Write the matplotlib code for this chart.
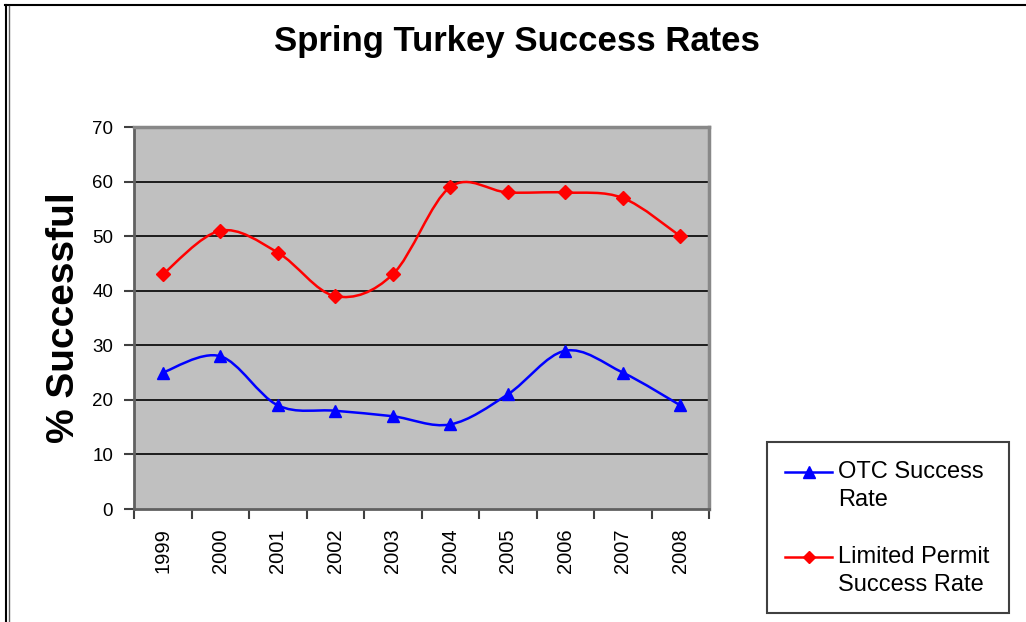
import matplotlib
matplotlib.use('Agg')
import matplotlib.pyplot as plt
import matplotlib.patches as patches
from matplotlib.path import Path
from matplotlib.lines import Line2D
import numpy as np

# ============================================================
# Data
# ============================================================
years = ['1999', '2000', '2001', '2002', '2003', '2004', '2005', '2006', '2007', '2008']
otc_rate = [25, 28, 19, 18, 17, 15.5, 21, 29, 25, 19]
limited_rate = [43, 51, 47, 39, 43, 59, 58, 58, 57, 50]
series_labels = ['OTC Success\nRate', 'Limited Permit\nSuccess Rate']
series_colors = ['#0000FF', '#FF0000']
series_markers = ['^', 'D']

plt.rcParams['font.family'] = ['Liberation Sans', 'DejaVu Sans']

W, H = 1026, 622
fig = plt.figure(figsize=(W / 100, H / 100), dpi=100)
fig.patch.set_facecolor('white')

# plot area in pixels: x 134..709, y 127..509
ax = fig.add_axes([134 / W, 1 - 509 / H, (709 - 134) / W, (509 - 127) / H])
ax.set_facecolor('#C0C0C0')

x = np.arange(len(years))
ax.set_xlim(-0.5, len(years) - 0.5)
ax.set_ylim(0, 70)


def smooth_path(xs, ys):
    # Excel-like smoothed line: cubic Bezier through every point
    pts = np.column_stack([xs, ys]).astype(float)
    n = len(pts)
    verts = [pts[0]]
    codes = [Path.MOVETO]
    for i in range(n - 1):
        p0 = pts[i - 1] if i > 0 else pts[i]
        p1 = pts[i]
        p2 = pts[i + 1]
        p3 = pts[i + 2] if i + 2 < n else pts[i + 1]
        c1 = p1 + (p2 - p0) / 6.0
        c2 = p2 - (p3 - p1) / 6.0
        verts += [c1, c2, p2]
        codes += [Path.CURVE4] * 3
    return Path(verts, codes)


# grid
for v in range(10, 70, 10):
    ax.axhline(v, color='black', linewidth=1.2, zorder=1)

# OTC (blue)
ax.add_patch(patches.PathPatch(smooth_path(x, otc_rate), facecolor='none',
                               edgecolor=series_colors[0], linewidth=1.8, zorder=3))
ax.plot(x, otc_rate, linestyle='none', marker='^', markersize=9,
        color=series_colors[0], zorder=4)

# Limited permit (red)
ax.add_patch(patches.PathPatch(smooth_path(x, limited_rate), facecolor='none',
                               edgecolor=series_colors[1], linewidth=1.8, zorder=3))
ax.plot(x, limited_rate, linestyle='none', marker='D', markersize=7,
        color=series_colors[1], zorder=4)

# axes styling
for side in ['top', 'right']:
    ax.spines[side].set_color('#888888')
    ax.spines[side].set_linewidth(2.5)
for side in ['left', 'bottom']:
    ax.spines[side].set_color('#606060')
    ax.spines[side].set_linewidth(2)

ax.set_yticks(range(0, 71, 10))
ax.tick_params(axis='y', direction='out', length=7, width=1.5, color='#404040',
               labelsize=13.5, pad=8)
ax.set_xticks(np.arange(-0.5, len(years), 1.0))
ax.set_xticklabels([])
ax.tick_params(axis='x', direction='out', length=7, width=1.5, color='#404040')
ax.set_xticks(x, minor=True)
ax.set_xticklabels(years, minor=True, rotation=90, fontsize=14.5)
ax.tick_params(axis='x', which='minor', length=0, pad=14)

ax.set_ylabel('% Successful', fontsize=28, fontweight='bold', labelpad=7)

fig.text(517 / W, 1 - 42 / H, 'Spring Turkey Success Rates', ha='center',
         va='center', fontsize=25, fontweight='bold')

# legend box
fig.add_artist(patches.Rectangle((767 / W, 1 - 613 / H), (1009 - 767) / W,
                                 (613 - 442) / H, transform=fig.transFigure,
                                 facecolor='white', edgecolor='#404040',
                                 linewidth=1.5))
legend_rows = [472, 557]
for label, color, marker, row in zip(series_labels, series_colors,
                                     series_markers, legend_rows):
    yy = 1 - row / H
    fig.add_artist(Line2D([785 / W, 832 / W], [yy, yy], transform=fig.transFigure,
                          color=color, linewidth=1.8))
    fig.add_artist(Line2D([808.5 / W], [yy], transform=fig.transFigure,
                          color=color, marker=marker,
                          markersize=8 if marker == '^' else 6, linestyle='none'))
    fig.text(838 / W, 1 - (row - 11) / H, label, ha='left', va='top',
             fontsize=17, linespacing=1.35)

# window frame (top and left edges)
fig.add_artist(Line2D([5 / W, 1], [1 - 4.5 / H, 1 - 4.5 / H],
                      transform=fig.transFigure, color='black', linewidth=1.5))
fig.add_artist(Line2D([5.5 / W, 5.5 / W], [0, 1 - 4.5 / H],
                      transform=fig.transFigure, color='black', linewidth=1.5))
fig.add_artist(Line2D([8.5 / W, 8.5 / W], [0, 1 - 6 / H],
                      transform=fig.transFigure, color='#606060', linewidth=1))

fig.savefig('out.png', dpi=100)
